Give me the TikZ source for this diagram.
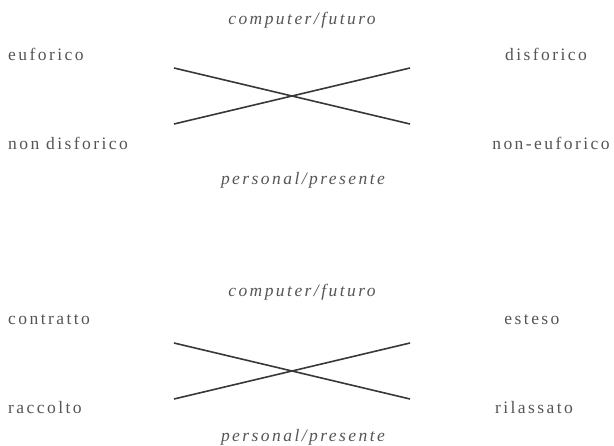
\documentclass[tikz,border=0pt]{standalone}
\usepackage{fontspec}
\setmainfont{Liberation Serif}[LetterSpace=14]
\definecolor{txtgray}{HTML}{555555}
\definecolor{lngray}{HTML}{383838}
\begin{document}
\begin{tikzpicture}[x=1pt,y=-1pt,
  lbl/.style={inner sep=0pt,text=txtgray,font=\fontsize{17.5}{20}\selectfont},
  ital/.style={lbl,font=\fontsize{17.5}{20}\selectfont\itshape},
  cross/.style={draw=lngray,line width=1.6pt}]
\useasboundingbox (0,0) rectangle (614,446);
% top diagram
\node[ital] (cf1) at (302,20) {computer/futuro};
\node[lbl,anchor=west] (eu) at (8,54) {euforico};
\node[lbl] (di) at (546,54) {disforico};
\node[lbl,anchor=west] (nd) at (8,143) {non disforico};
\node[lbl] (ne) at (551,143) {non-euforico};
\node[ital] (pp1) at (303,180) {personal/presente};
\coordinate (a1) at (174,68);
\coordinate (b1) at (410,124);
\coordinate (c1) at (174,124);
\coordinate (d1) at (410,68);
\draw[cross] (a1) -- (b1);
\draw[cross] (c1) -- (d1);
% bottom diagram
\node[ital] (cf2) at (302,292) {computer/futuro};
\node[lbl,anchor=west] (co) at (8,320) {contratto};
\node[lbl] (es) at (532,320) {esteso};
\node[lbl,anchor=west] (ra) at (8,408) {raccolto};
\node[lbl] (ri) at (534,408) {rilassato};
\node[ital] (pp2) at (303,437) {personal/presente};
\coordinate (a2) at (174,343);
\coordinate (b2) at (410,399);
\coordinate (c2) at (174,399);
\coordinate (d2) at (410,343);
\draw[cross] (a2) -- (b2);
\draw[cross] (c2) -- (d2);
\end{tikzpicture}
\end{document}
